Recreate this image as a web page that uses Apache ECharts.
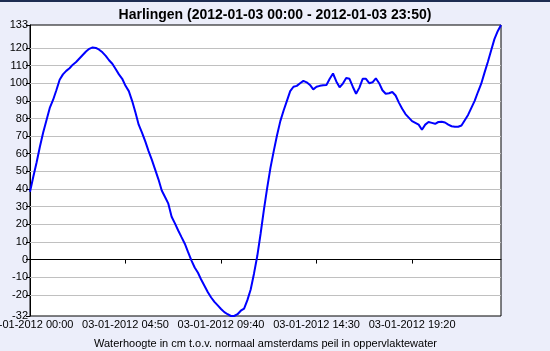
<!DOCTYPE html>
<html>
<head>
<meta charset="utf-8">
<script src="https://cdn.jsdelivr.net/npm/echarts@6/dist/echarts.min.js"></script>
<style>
html,body{margin:0;padding:0;background:#ECEEFA;}
#c{width:550px;height:351px;}
</style>
</head>
<body>
<div id="c"></div>
<script>
// ---- data ----
const chartTitle = 'Harlingen (2012-01-03 00:00 - 2012-01-03 23:50)';
const axisName = 'Waterhoogte in cm t.o.v. normaal amsterdams peil in oppervlaktewater';
const datePrefix = '03-01-2012';
const stepMinutes = 10;
const waterLevel = [
  38.5, 47, 55, 64, 72, 79, 86, 90.5, 96, 102,
  105, 107, 108.5, 110.5, 112, 114, 116, 118, 119.5, 120.3,
  120, 119, 117.5, 115.5, 113, 111, 108, 105, 102.5, 98.5,
  95.5, 90, 83.5, 76.5, 72, 67, 61.5, 56.5, 51, 45.5,
  39.2, 35.5, 31.7, 24.3, 20.5, 16.5, 12.7, 9, 4.2, -0.5,
  -4.5, -7.5, -11.5, -15, -18.5, -21.5, -24, -26, -28, -29.8,
  -31, -32, -32, -31, -29, -27.8, -23, -17, -8, 2,
  14.5, 28, 40.5, 52, 61.5, 70.5, 78.5, 84.5, 90, 95.5,
  98, 98.5, 100, 101.3, 100.5, 99, 96.5, 98, 98.5, 98.8,
  99, 102.5, 105.5, 101, 97.7, 99.8, 103, 102.5, 98, 94,
  97.5, 102.5, 102.5, 100, 100.5, 102.8, 100, 96, 94, 94.3,
  95, 93, 89, 85.5, 82.5, 80.5, 78.5, 77.5, 76.5, 73.6,
  76.5, 78, 77.5, 77, 78, 78.1, 77.7, 76.5, 75.6, 75.3,
  75.3, 76, 79, 82, 86, 90, 95, 99.7, 106, 112,
  118.5, 125, 129.5, 133
];
const yMin = -32;
const yMax = 133;
const yTickValues = [-32, -20, -10, 0, 10, 20, 30, 40, 50, 60, 70, 80, 90, 100, 110, 120, 133];
const gridLineValues = [-20, -10, 10, 20, 30, 40, 50, 60, 70, 80, 90, 100, 110, 120];
const zeroLineValue = [0];
const xLabelEvery = 29;

// categories (time stamps of each measurement)
const categories = waterLevel.map((v, i) => {
  const m = i * stepMinutes;
  const hh = String(Math.floor(m / 60)).padStart(2, '0');
  const mm = String(m % 60).padStart(2, '0');
  return datePrefix + ' ' + hh + ':' + mm;
});

const FONT = '"Liberation Sans", Arial, sans-serif';
const chart = echarts.init(document.getElementById('c'), null, {renderer: 'canvas'});
chart.setOption({
  backgroundColor: '#ECEEFA',
  animation: false,
  textStyle: {fontFamily: FONT},
  title: {
    text: chartTitle,
    left: 'center',
    top: 3,
    textStyle: {fontFamily: FONT, fontSize: 14, fontWeight: 'bold', color: '#000'}
  },
  graphic: [
    {type: 'rect', left: 0, top: 0, shape: {width: 550, height: 2}, style: {fill: '#1E2D52'}, z: 100}
  ],
  grid: {
    left: 30, right: 49, top: 25, bottom: 35,
    show: true, backgroundColor: '#FFFFFF', borderColor: '#000', borderWidth: 1,
    containLabel: false,
    outerBoundsMode: 'none'
  },
  xAxis: {
    type: 'category',
    data: categories,
    boundaryGap: false,
    name: axisName,
    nameLocation: 'middle',
    nameGap: 22,
    nameTextStyle: {fontFamily: FONT, fontSize: 11, color: '#000'},
    axisLine: {show: true, lineStyle: {color: '#000', width: 1}},
    axisTick: {show: true, interval: xLabelEvery - 1, length: 4, inside: false, lineStyle: {color: '#000'}},
    axisLabel: {interval: xLabelEvery - 1, margin: 3, fontFamily: FONT, fontSize: 11, color: '#000', hideOverlap: false, showMinLabel: true},
    splitLine: {show: false}
  },
  yAxis: {
    type: 'value',
    min: yMin,
    max: yMax,
    axisLine: {show: true, lineStyle: {color: '#000', width: 1}},
    axisTick: {show: true, length: 4, customValues: yTickValues, lineStyle: {color: '#000'}},
    axisLabel: {customValues: yTickValues, margin: 2, fontFamily: FONT, fontSize: 11, color: '#000', showMinLabel: true, showMaxLabel: true},
    splitLine: {show: false}
  },
  series: [
    {
      type: 'line',
      data: [],
      z: 1,
      silent: true,
      markLine: {
        silent: true,
        symbol: 'none',
        label: {show: false},
        animation: false,
        lineStyle: {color: '#C0C0C0', width: 1, type: 'solid'},
        data: gridLineValues.map(v => ({yAxis: v}))
      }
    },
    {
      type: 'line',
      data: [],
      z: 2,
      silent: true,
      markLine: {
        silent: true,
        symbol: 'none',
        label: {show: false},
        animation: false,
        lineStyle: {color: '#000000', width: 1, type: 'solid'},
        data: zeroLineValue.map(v => ({yAxis: v}))
      }
    },
    {
      type: 'line',
      data: waterLevel,
      z: 5,
      showSymbol: false,
      symbol: 'none',
      smooth: false,
      lineStyle: {color: '#0000FF', width: 2},
      itemStyle: {color: '#0000FF'}
    }
  ]
});
</script>
</body>
</html>
